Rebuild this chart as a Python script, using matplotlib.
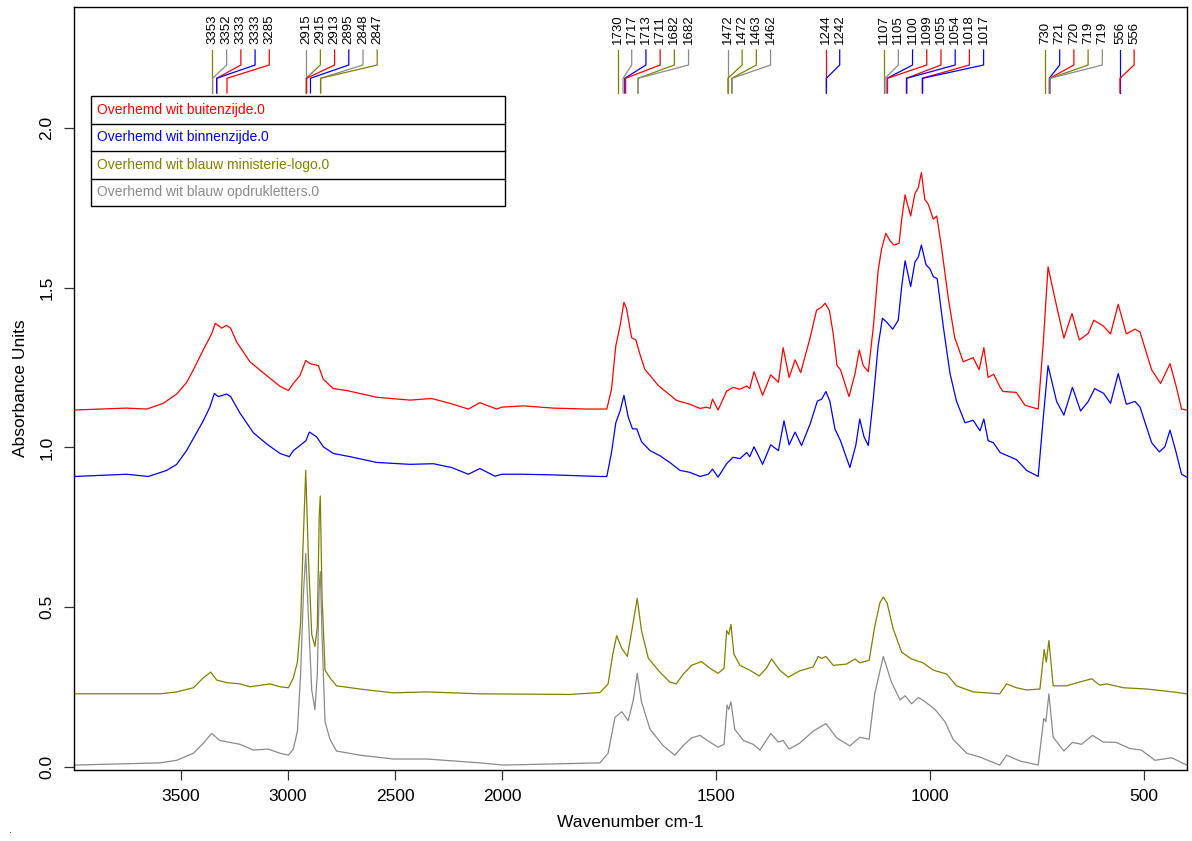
import numpy as np
import matplotlib.pyplot as plt
from matplotlib.lines import Line2D
from matplotlib.patches import Rectangle

plt.rcParams['font.family'] = ['Liberation Sans', 'DejaVu Sans']

RED = '#ff0000'
BLUE = '#0000ff'
OLIVE = '#808000'
GRAY = '#8a8a8a'

# --- spectra (wavenumber cm-1, absorbance units) ---
wn_red = [4000, 3754, 3660, 3583, 3520, 3474, 3442, 3396, 3357, 3340, 3326, 3310, 3287, 3268,
          3240, 3178, 3100, 3037, 2998, 2975, 2944, 2917, 2897, 2858, 2835, 2788, 2726, 2586,
          2430, 2329, 2243, 2157, 2103, 2025, 2000, 1950, 1880, 1802,
          1771, 1755, 1744, 1734, 1724, 1715, 1709, 1697, 1687, 1678, 1666, 1654, 1635, 1615,
          1592, 1561, 1537, 1522, 1514, 1508, 1495, 1475, 1460, 1444, 1428, 1421, 1411, 1391,
          1372, 1354, 1343, 1329, 1315, 1302, 1280, 1265, 1253, 1245, 1235, 1226, 1217, 1209,
          1189, 1175, 1165, 1156, 1144, 1132, 1121, 1113, 1103, 1093, 1084, 1072, 1066, 1058,
          1053, 1045, 1035, 1027, 1020, 1012, 1004, 992, 984, 973, 957, 942, 922, 899, 885, 874,
          864, 851, 836, 829, 798, 778, 747, 735, 724, 706, 687, 668, 651, 630, 617, 595, 578,
          560, 541, 521, 509, 482, 461, 439, 424, 412, 400]
abs_red = [1.117, 1.123, 1.120, 1.138, 1.167, 1.203, 1.243, 1.305, 1.355, 1.388, 1.382, 1.373,
           1.382, 1.373, 1.330, 1.268, 1.225, 1.191, 1.178, 1.200, 1.225, 1.272, 1.262, 1.256,
           1.213, 1.184, 1.178, 1.157, 1.148, 1.153, 1.138, 1.120, 1.140, 1.120, 1.126, 1.130,
           1.123, 1.120,
           1.120, 1.120, 1.182, 1.318, 1.380, 1.454, 1.435, 1.343, 1.336, 1.293, 1.244, 1.225,
           1.194, 1.172, 1.147, 1.135, 1.122, 1.126, 1.122, 1.151, 1.117, 1.176, 1.188, 1.182,
           1.192, 1.184, 1.237, 1.163, 1.227, 1.204, 1.312, 1.219, 1.274, 1.234, 1.343, 1.429,
           1.439, 1.451, 1.429, 1.355, 1.256, 1.243, 1.159, 1.231, 1.305, 1.256, 1.237, 1.380,
           1.553, 1.621, 1.670, 1.646, 1.633, 1.639, 1.714, 1.790, 1.763, 1.724, 1.794, 1.813,
           1.860, 1.776, 1.761, 1.714, 1.724, 1.627, 1.466, 1.343, 1.268, 1.281, 1.243, 1.312,
           1.219, 1.229, 1.188, 1.175, 1.172, 1.132, 1.120, 1.330, 1.565, 1.454, 1.342, 1.419,
           1.336, 1.357, 1.398, 1.380, 1.355, 1.448, 1.355, 1.370, 1.361, 1.243, 1.200, 1.262,
           1.188, 1.120, 1.117]

wn_blue = [4000, 3754, 3653, 3567, 3520, 3474, 3427, 3396, 3365, 3344, 3326, 3310, 3287, 3268,
           3224, 3162, 3100, 3037, 2994, 2975, 2944, 2916, 2900, 2866, 2835, 2788, 2710, 2586,
           2430, 2321, 2235, 2157, 2103, 2033, 2000, 1950, 1880,
           1771, 1755, 1744, 1734, 1724, 1715, 1705, 1695, 1685, 1674, 1654, 1631, 1608, 1584,
           1561, 1537, 1518, 1508, 1495, 1475, 1460, 1444, 1428, 1421, 1411, 1391, 1372, 1354,
           1341, 1329, 1315, 1300, 1280, 1263, 1253, 1243, 1234, 1222, 1209, 1187, 1173, 1164,
           1154, 1144, 1132, 1121, 1111, 1101, 1087, 1074, 1066, 1058, 1045, 1035, 1027, 1020,
           1009, 1000, 992, 983, 969, 953, 938, 918, 899, 883, 874, 864, 852, 836,
           798, 774, 747, 735, 724, 704, 687, 667, 648, 630, 615, 594, 578, 560, 541, 521, 509,
           482, 464, 451, 439, 425, 412, 400]
abs_blue = [0.909, 0.916, 0.909, 0.928, 0.947, 0.990, 1.046, 1.083, 1.126, 1.169, 1.159, 1.162,
            1.167, 1.159, 1.107, 1.046, 1.011, 0.981, 0.971, 0.990, 1.006, 1.021, 1.048, 1.033,
            1.002, 0.981, 0.971, 0.953, 0.947, 0.949, 0.937, 0.916, 0.934, 0.910, 0.916, 0.916,
            0.914,
            0.909, 0.909, 0.984, 1.077, 1.114, 1.163, 1.095, 1.058, 1.058, 1.018, 0.990, 0.974,
            0.953, 0.928, 0.922, 0.909, 0.916, 0.932, 0.907, 0.949, 0.969, 0.965, 0.984, 0.971,
            1.002, 0.947, 1.008, 0.990, 1.083, 1.008, 1.048, 1.006, 1.073, 1.145, 1.151, 1.175,
            1.145, 1.058, 1.021, 0.937, 1.008, 1.089, 1.033, 1.006, 1.157, 1.318, 1.404, 1.392,
            1.370, 1.398, 1.503, 1.584, 1.503, 1.580, 1.596, 1.633, 1.571, 1.559, 1.534, 1.528,
            1.380, 1.231, 1.145, 1.077, 1.085, 1.052, 1.089, 1.021, 1.015, 0.984,
            0.962, 0.928, 0.909, 1.095, 1.256, 1.144, 1.101, 1.188, 1.114, 1.144, 1.184, 1.169,
            1.138, 1.231, 1.135, 1.144, 1.126, 1.015, 0.986, 1.002, 1.054, 0.986, 0.916, 0.907]

wn_olive = [4000, 3598, 3520, 3442, 3396, 3361, 3333, 3287, 3224, 3178, 3084, 3037, 2998, 2975,
            2956, 2941, 2928, 2917, 2905, 2889, 2874, 2863, 2854, 2849, 2841, 2827, 2804, 2773,
            2664, 2508, 2352, 2103, 1841,
            1771, 1752, 1741, 1732, 1720, 1707, 1695, 1684, 1674, 1658, 1631, 1608, 1593, 1576,
            1557, 1534, 1514, 1495, 1481, 1475, 1470, 1465, 1458, 1444, 1421, 1399, 1382, 1370,
            1351, 1331, 1304, 1273, 1261, 1253, 1243, 1226, 1195, 1175, 1164, 1142, 1129, 1117,
            1109, 1100, 1086, 1066, 1043, 1016, 992, 961, 938, 899, 837,
            821, 798, 774, 743, 733, 728, 722, 712, 681, 650, 622, 603, 587, 548, 494, 432, 400]
abs_olive = [0.229, 0.229, 0.235, 0.248, 0.279, 0.297, 0.272, 0.264, 0.260, 0.251, 0.260, 0.251,
             0.248, 0.279, 0.328, 0.452, 0.724, 0.928, 0.662, 0.415, 0.377, 0.439, 0.786, 0.848,
             0.538, 0.303, 0.279, 0.254, 0.244, 0.232, 0.235, 0.229, 0.227,
             0.233, 0.260, 0.353, 0.411, 0.371, 0.346, 0.439, 0.528, 0.427, 0.340, 0.297, 0.266,
             0.260, 0.291, 0.318, 0.330, 0.309, 0.293, 0.309, 0.427, 0.415, 0.446, 0.353, 0.318,
             0.303, 0.285, 0.309, 0.338, 0.303, 0.281, 0.301, 0.313, 0.346, 0.340, 0.346, 0.318,
             0.322, 0.338, 0.326, 0.334, 0.439, 0.513, 0.532, 0.513, 0.433, 0.359, 0.338, 0.326,
             0.303, 0.291, 0.254, 0.235, 0.229,
             0.260, 0.248, 0.241, 0.244, 0.368, 0.328, 0.396, 0.254, 0.254, 0.266, 0.276, 0.256,
             0.260, 0.248, 0.244, 0.235, 0.229]

wn_gray = [4000, 3598, 3520, 3442, 3396, 3357, 3318, 3224, 3162, 3092, 3037, 2998, 2975, 2956,
           2941, 2928, 2917, 2905, 2889, 2874, 2863, 2854, 2849, 2841, 2827, 2804, 2773, 2664,
           2508, 2352, 2103, 1997,
           1771, 1752, 1736, 1720, 1705, 1693, 1684, 1674, 1654, 1623, 1596, 1576, 1557, 1537,
           1518, 1495, 1481, 1474, 1470, 1465, 1456, 1436, 1413, 1397, 1372, 1354, 1343, 1329,
           1304, 1273, 1243, 1218, 1187, 1164, 1142, 1129, 1109, 1090, 1070, 1058, 1043, 1027,
           1017, 988, 965, 946, 914, 883, 837,
           821, 790, 747, 734, 729, 722, 712, 687, 667, 646, 620, 595, 565, 533, 506, 474, 435,
           400]
abs_gray = [0.006, 0.013, 0.021, 0.043, 0.074, 0.105, 0.083, 0.071, 0.053, 0.056, 0.043, 0.037,
            0.056, 0.112, 0.291, 0.538, 0.668, 0.476, 0.241, 0.180, 0.291, 0.563, 0.612, 0.415,
            0.142, 0.087, 0.050, 0.037, 0.025, 0.025, 0.013, 0.006,
            0.013, 0.043, 0.155, 0.173, 0.145, 0.210, 0.293, 0.204, 0.118, 0.066, 0.037, 0.068,
            0.091, 0.099, 0.081, 0.062, 0.071, 0.194, 0.180, 0.204, 0.118, 0.083, 0.071, 0.053,
            0.105, 0.078, 0.083, 0.056, 0.075, 0.112, 0.136, 0.091, 0.066, 0.093, 0.087, 0.229,
            0.346, 0.266, 0.210, 0.223, 0.198, 0.217, 0.210, 0.180, 0.142, 0.087, 0.043, 0.031,
            0.006,
            0.037, 0.019, 0.006, 0.152, 0.142, 0.229, 0.093, 0.050, 0.077, 0.071, 0.099, 0.078,
            0.077, 0.058, 0.053, 0.021, 0.029, 0.006]

sample_names = ['Overhemd wit buitenzijde.0', 'Overhemd wit binnenzijde.0',
                'Overhemd wit blauw ministerie-logo.0', 'Overhemd wit blauw opdrukletters.0']
sample_colors = [RED, BLUE, OLIVE, GRAY]

# --- picked peaks, left to right ---
peak_wn = [3353, 3352, 3333, 3333, 3285,
           2915, 2915, 2913, 2895, 2848, 2847,
           1730, 1717, 1713, 1711, 1682, 1682,
           1472, 1472, 1463, 1462,
           1244, 1242,
           1107, 1105, 1100, 1099, 1055, 1054, 1018, 1017,
           730, 721, 720, 719, 719,
           556, 556]
peak_colors = [OLIVE, GRAY, RED, BLUE, RED,
               GRAY, OLIVE, RED, BLUE, GRAY, OLIVE,
               OLIVE, GRAY, BLUE, RED, OLIVE, GRAY,
               GRAY, OLIVE, OLIVE, GRAY,
               RED, BLUE,
               OLIVE, GRAY, BLUE, RED, RED, BLUE, RED, BLUE,
               OLIVE, BLUE, RED, OLIVE, GRAY,
               BLUE, RED]


# wavenumber axis: the 4000-2000 range is shown at half scale
def fwd(w):
    w = np.asarray(w, dtype=float)
    return np.where(w > 2000, 2000 + (w - 2000) / 2, w)


def inv(u):
    u = np.asarray(u, dtype=float)
    return np.where(u > 2000, 2000 + (u - 2000) * 2, u)


W, H = 1192, 841
fig = plt.figure(figsize=(W / 100, H / 100), dpi=100)
ax = fig.add_axes([74 / W, 1 - 769.5 / H, (1186.7 - 74) / W, (769.5 - 7) / H])
ax.set_xscale('function', functions=(fwd, inv))
ax.set_xlim(4000, 400)
ax.set_ylim(-0.0078, 2.378)

for wn, ab, c in [(wn_red, abs_red, RED), (wn_blue, abs_blue, BLUE),
                  (wn_olive, abs_olive, OLIVE), (wn_gray, abs_gray, GRAY)]:
    ax.plot(wn, ab, color=c, lw=0.9)

# peak markers with spread-out labels
gap = 33.2  # label spacing in scaled units
prev = np.inf
for wn, c in zip(peak_wn, peak_colors):
    u = float(fwd(wn))
    lu = min(u, prev - gap)
    prev = lu
    lx = float(inv(lu))
    ax.plot([lx, lx, wn, wn], [2.2435, 2.1965, 2.155, 2.109], color=c, lw=0.9)
    ax.text(lx, 2.262, str(wn), rotation=90, ha='center', va='bottom', fontsize=9.5)

ticks = [3500, 3000, 2500, 2000, 1500, 1000, 500]
ax.set_xticks(ticks, labels=[str(t) for t in ticks])
ax.set_yticks([0.0, 0.5, 1.0, 1.5, 2.0], labels=['0.0', '0.5', '1.0', '1.5', '2.0'])
ax.tick_params(axis='both', direction='out', length=7, width=0.9, color='#333333',
               labelsize=12.5, pad=7)
ax.tick_params(axis='y', labelrotation=90)
for lab in ax.get_yticklabels():
    lab.set_va('center')
for sp in ax.spines.values():
    sp.set_linewidth(1.0)
    sp.set_color('black')

ax.set_xlabel('Wavenumber cm-1', fontsize=12.5, labelpad=8)
ax.set_ylabel('Absorbance Units', fontsize=12.5, labelpad=8)


# sample legend box
def fx(px):
    return px / W


def fy(py):
    return 1 - py / H


box_l, box_r, box_t, box_b = 90.7, 505, 96, 206
row_h = (box_b - box_t) / len(sample_names)
fig.patches.append(Rectangle((fx(box_l), fy(box_b)), fx(box_r) - fx(box_l), fy(box_t) - fy(box_b),
                             transform=fig.transFigure, fill=True, facecolor='white',
                             edgecolor='black', lw=1.0))
for i, (name, c) in enumerate(zip(sample_names, sample_colors)):
    if i > 0:
        yy = fy(box_t + i * row_h)
        fig.lines.append(Line2D([fx(box_l), fx(box_r)], [yy, yy], transform=fig.transFigure,
                                color='black', lw=1.0))
    fig.text(fx(box_l + 6), fy(box_t + (i + 0.5) * row_h), name, color=c, fontsize=10,
             ha='left', va='center')

fig.text(fx(10), fy(830), '.', fontsize=8, ha='center', va='center')

fig.savefig('out.png', dpi=100)
